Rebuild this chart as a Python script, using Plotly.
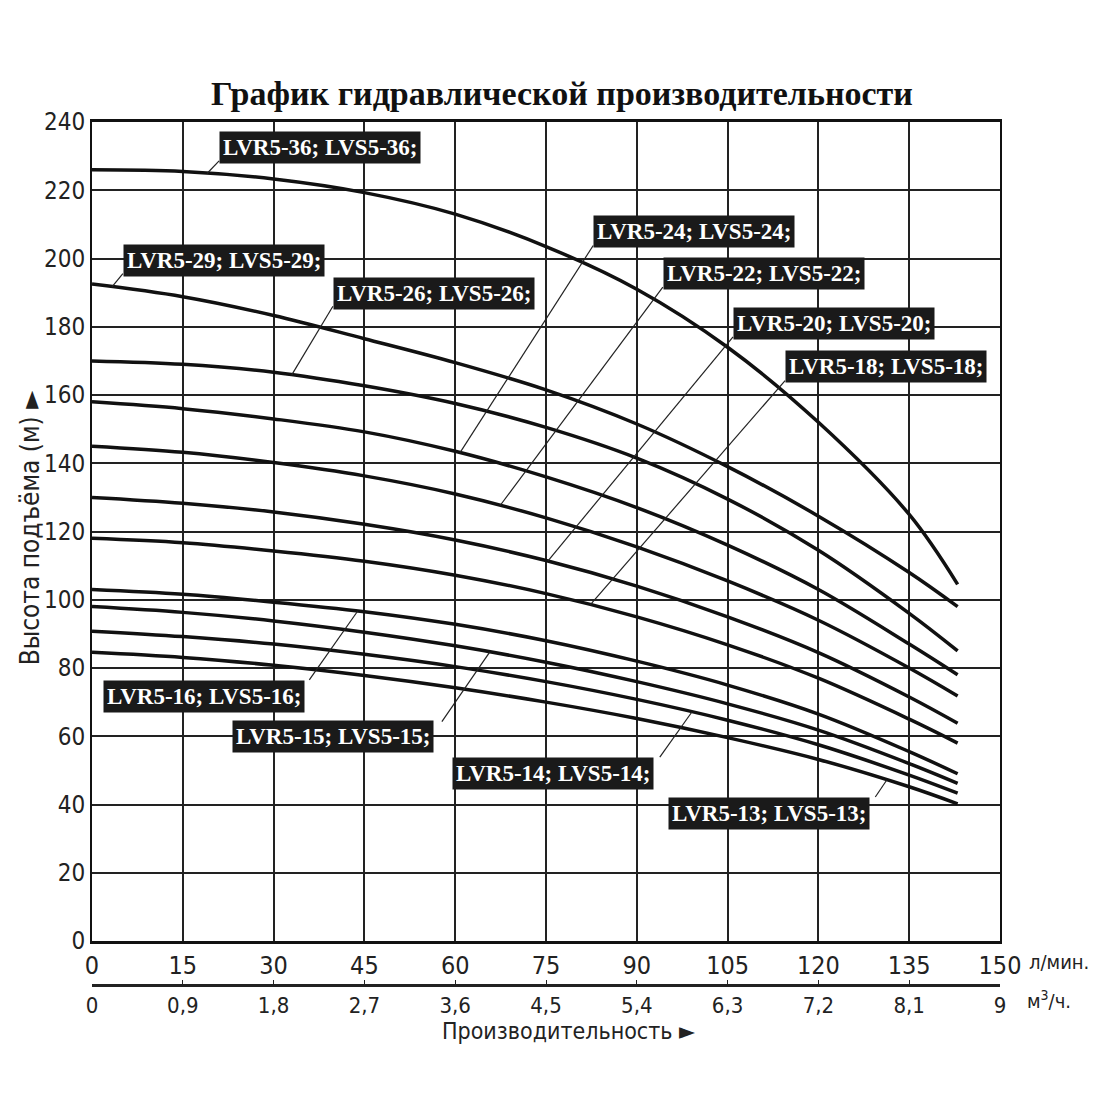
import numpy as np
import plotly.graph_objects as go

# flow, l/min
flow = [0, 15, 30, 45, 60, 75, 90, 105, 120, 135, 143]

# head, m, one list per pump model
h36 = [226, 225.5, 223.3, 219.3, 213, 203.5, 191, 174, 152, 125, 104.5]
h29 = [192.5, 188.8, 183.3, 176.5, 169.5, 161.5, 151.5, 139, 124.5, 108, 98]
h26 = [170, 169, 166.7, 162.7, 157.5, 150.5, 141.5, 129.5, 114.5, 96, 85]
h24 = [158, 156, 153, 149.2, 143.5, 136, 127, 116, 103, 87, 78]
h22 = [145, 143.2, 140.2, 136.3, 131, 124, 115.5, 105.5, 94, 80, 71.8]
h20 = [130, 128.3, 125.7, 122.1, 117.5, 111.5, 104, 95, 84.5, 71.5, 63.8]
h18 = [118, 116.7, 114.3, 111.3, 107.2, 101.8, 95, 86.8, 77, 65, 58]
h16 = [103, 101.6, 99.3, 96.5, 92.8, 88, 82, 75, 66.5, 55.5, 49]
h15 = [98, 96.3, 93.8, 90.5, 86.5, 81.7, 76, 69.5, 61.8, 52, 46.2]
h14 = [90.8, 89.2, 87, 84, 80.4, 76, 70.8, 64.7, 57.5, 48.6, 43.3]
h13 = [84.6, 83.1, 80.8, 77.8, 74.2, 70, 65.2, 59.6, 53.2, 45.2, 40.2]

models = ["36", "29", "26", "24", "22", "20", "18", "16", "15", "14", "13"]
heads = [h36, h29, h26, h24, h22, h20, h18, h16, h15, h14, h13]

x_ticks = [0, 15, 30, 45, 60, 75, 90, 105, 120, 135, 150]
m3_ticks = [0, 0.9, 1.8, 2.7, 3.6, 4.5, 5.4, 6.3, 7.2, 8.1, 9]
m3_labels = ["0", "0,9", "1,8", "2,7", "3,6", "4,5", "5,4", "6,3", "7,2", "8,1", "9"]

# label boxes: (left x, top y) of box, start of leader, flow where leader meets curve
label_box = {
    "36": (21.0, 237.4), "29": (5.1, 204.2), "26": (39.8, 194.6),
    "24": (82.8, 212.7), "22": (94.3, 200.4), "20": (105.9, 185.8),
    "18": (114.5, 173.2), "16": (1.8, 76.5), "15": (23.1, 64.8),
    "14": (59.5, 53.9), "13": (95.2, 42.2),
}
leader_from = {
    "36": (21.0, 228.6), "29": (5.1, 195.6), "26": (39.8, 186.0),
    "24": (82.8, 203.8), "22": (94.3, 191.6), "20": (105.9, 177.0),
    "18": (114.5, 164.2), "16": (35.9, 76.5), "15": (57.8, 64.3),
    "14": (93.8, 53.9), "13": (129.4, 42.2),
}
leader_to = {
    "36": 19.0, "29": 3.3, "26": 33.0, "24": 60.8, "22": 67.4, "20": 75.3,
    "18": 82.3, "16": 43.9, "15": 65.7, "14": 99.1, "13": 131.3,
}

SANS = "Liberation Sans Narrow, Arial Narrow, DejaVu Sans Condensed, sans-serif"
SERIF = "Liberation Serif, Times New Roman, serif"

fig = go.Figure()

for m, h in zip(models, heads):
    fig.add_trace(go.Scatter(
        x=flow, y=h, mode="lines", name="LVR5-" + m,
        line=dict(color="#111111", width=3.5, shape="spline", smoothing=1.0),
        showlegend=False, hoverinfo="skip",
    ))

# invisible trace that carries the m3/h axis
fig.add_trace(go.Scatter(x=[0, 9], y=[0, 0], xaxis="x2", mode="markers",
                         marker=dict(opacity=0), showlegend=False, hoverinfo="skip"))

for m, h in zip(models, heads):
    x0, y0 = leader_from[m]
    x1 = leader_to[m]
    y1 = float(np.interp(x1, flow, h))
    fig.add_shape(type="line", xref="x", yref="y", x0=x0, y0=y0, x1=x1, y1=y1,
                  line=dict(color="#222222", width=1.2))
    bx, by = label_box[m]
    fig.add_annotation(
        x=bx, y=by, xref="x", yref="y", xanchor="left", yanchor="top",
        text="LVR5-%s; LVS5-%s;" % (m, m), showarrow=False,
        font=dict(family=SERIF, size=23, color="white", weight="bold"),
        bgcolor="#1a1a1a", borderpad=3,
    )

fig.add_annotation(x=1.03, y=0.0267, xref="paper", yref="paper", xanchor="left",
                   yanchor="middle", text="л/мин.", showarrow=False,
                   font=dict(family=SANS, size=20, color="#222"))
fig.add_annotation(x=1.027, y=-0.0174, xref="paper", yref="paper", xanchor="left",
                   yanchor="middle", text="м<sup>3</sup>/ч.", showarrow=False,
                   font=dict(family=SANS, size=20, color="#222"))
fig.add_annotation(x=0.525, y=-0.053, xref="paper", yref="paper", xanchor="center",
                   yanchor="middle", text="Производительность ►", showarrow=False,
                   font=dict(family=SANS, size=23, color="#222"))
fig.add_annotation(x=-0.068, y=121, xref="paper", yref="y", xanchor="center",
                   yanchor="middle", text="Высота подъёма (м) ►", textangle=-90,
                   showarrow=False, font=dict(family=SANS, size=26, color="#222"))

# the page adds an 8 px body margin, so the margins are shifted by 8 px
fig.update_layout(
    width=1100, height=1100,
    paper_bgcolor="white", plot_bgcolor="white",
    margin=dict(l=84, r=108, t=114, b=123),
    title=dict(text="График гидравлической производительности",
               x=0.5036, xanchor="center", y=1 - 85 / 1100, yanchor="middle",
               font=dict(family=SERIF, size=34, color="#111", weight="bold")),
    xaxis=dict(range=[0, 150], tickvals=x_ticks, showgrid=True,
               gridcolor="#222", gridwidth=1.5, showline=True, mirror=True,
               linecolor="#111", linewidth=2.5, zeroline=False, ticks="",
               tickfont=dict(family=SANS, size=25, color="#222"), anchor="y"),
    xaxis2=dict(range=[0, 9], tickvals=m3_ticks, ticktext=m3_labels,
                overlaying="x", anchor="free", position=0, side="bottom",
                showgrid=False, showline=True, linecolor="#222", linewidth=2.5,
                ticks="inside", ticklen=4, tickcolor="#222", zeroline=False,
                tickfont=dict(family=SANS, size=22, color="#222")),
    yaxis=dict(range=[0, 240], dtick=20, domain=[44 / 863, 1], showgrid=True,
               gridcolor="#222", gridwidth=1.5, showline=True, mirror=True,
               linecolor="#111", linewidth=2, zeroline=False, ticks="",
               tickfont=dict(family=SANS, size=24, color="#222")),
)

fig.write_html("out.html")
